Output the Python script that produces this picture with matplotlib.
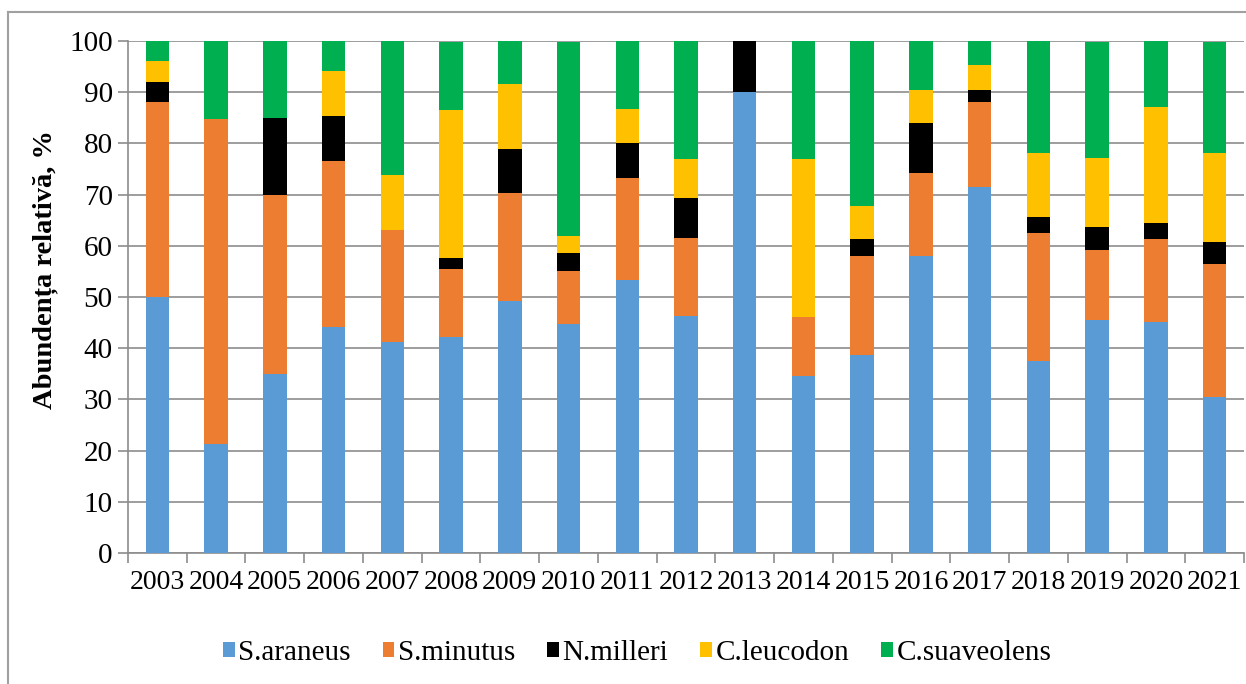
import matplotlib
matplotlib.use("Agg")
import numpy as np
import matplotlib.pyplot as plt
from matplotlib.lines import Line2D

# relative abundance (%) per year
years = ["2003", "2004", "2005", "2006", "2007", "2008", "2009", "2010", "2011", "2012",
         "2013", "2014", "2015", "2016", "2017", "2018", "2019", "2020", "2021"]
s_araneus = [50.0, 21.2, 35.0, 44.1, 41.3, 42.2, 49.3, 44.8, 53.3, 46.2,
             90.0, 34.6, 38.7, 58.1, 71.4, 37.5, 45.5, 45.2, 30.4]
s_minutus = [38.0, 63.6, 35.0, 32.4, 21.7, 13.3, 21.1, 10.3, 20.0, 15.4,
             0.0, 11.5, 19.4, 16.1, 16.7, 25.0, 13.6, 16.1, 26.1]
n_milleri = [4.0, 0.0, 15.0, 8.8, 0.0, 2.2, 8.5, 3.4, 6.7, 7.7,
             10.0, 0.0, 3.2, 9.7, 2.4, 3.1, 4.5, 3.2, 4.3]
c_leucodon = [4.0, 0.0, 0.0, 8.8, 10.9, 28.9, 12.7, 3.4, 6.7, 7.7,
              0.0, 30.8, 6.5, 6.5, 4.8, 12.5, 13.6, 22.6, 17.4]
c_suaveolens = [4.0, 15.2, 15.0, 5.9, 26.1, 13.3, 8.5, 37.9, 13.3, 23.1,
                0.0, 23.1, 32.3, 9.7, 4.8, 21.9, 22.7, 12.9, 21.7]

species = ["S.araneus", "S.minutus", "N.milleri", "C.leucodon", "C.suaveolens"]
colors = ["#5b9bd5", "#ed7d31", "#000000", "#ffc000", "#00b050"]

plt.rcParams["font.family"] = ["Liberation Serif", "DejaVu Serif"]

W, H = 1246, 684
fig = plt.figure(figsize=(W / 100, H / 100), dpi=100)
ax = fig.add_axes([128 / W, (H - 553) / H, (1244 - 128) / W, 512 / H])

x = np.arange(len(years))
bottom = np.zeros(len(years))
for name, vals, col in zip(species, [s_araneus, s_minutus, n_milleri, c_leucodon, c_suaveolens], colors):
    vals = np.array(vals)
    ax.bar(x, vals, width=0.4, bottom=bottom, color=col, label=name, zorder=3)
    bottom += vals

grid_col = "#8c8c8c"
ax.set_ylim(0, 100)
ax.set_xlim(-0.5, len(years) - 0.5)
ax.set_yticks(np.arange(0, 101, 10))
ax.yaxis.grid(True, color=grid_col, linewidth=1.2, zorder=0)
ax.set_xticks(x)
ax.set_xticklabels(years)
ax.set_xticks(np.arange(-0.5, len(years), 1), minor=True)
ax.tick_params(axis="x", which="major", length=0, pad=12, labelsize=20)
ax.tick_params(axis="x", which="minor", length=7, color=grid_col, width=1.2)
ax.tick_params(axis="y", length=7, color=grid_col, width=1.2, labelsize=21, pad=4)

for side in ["top", "right"]:
    ax.spines[side].set_visible(False)
for side in ["left", "bottom"]:
    ax.spines[side].set_color(grid_col)
    ax.spines[side].set_linewidth(1.2)

ax.set_ylabel("Abundența relativă, %", fontsize=20.5, fontweight="bold")
ax.yaxis.set_label_coords(-70 / (1244 - 128), (553 - 270) / 512)

fig.legend(loc="center", bbox_to_anchor=(637 / W, 1 - 653 / H), ncol=5, frameon=False,
           fontsize=21, handlelength=0.4, handleheight=0.4, handletextpad=0.12,
           columnspacing=1.1)

# outer chart frame
fig.add_artist(Line2D([8 / W, 8 / W], [0, 1 - 12 / H], color="#a0a0a0", linewidth=1.5))
fig.add_artist(Line2D([8 / W, 1], [1 - 12 / H, 1 - 12 / H], color="#a0a0a0", linewidth=1.5))

fig.savefig("out.png", dpi=100)
